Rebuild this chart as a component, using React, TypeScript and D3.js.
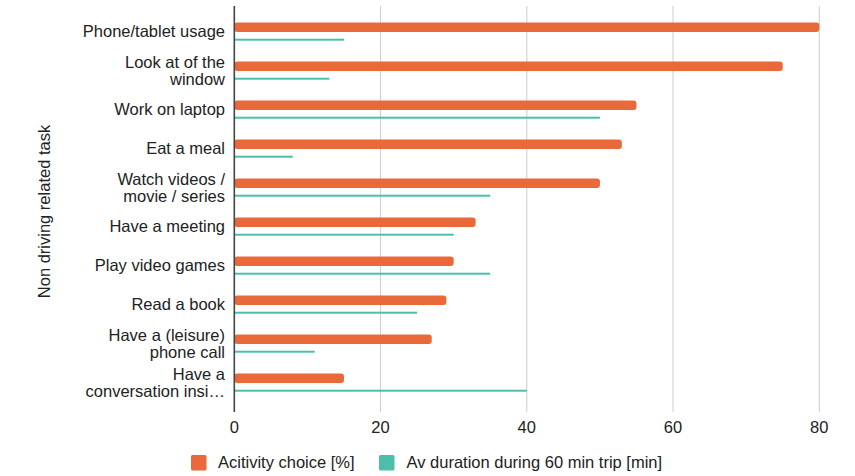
import React from "react";
import * as d3 from "d3";

const tasks: string[][] = [
  ["Phone/tablet usage"],
  ["Look at of the", "window"],
  ["Work on laptop"],
  ["Eat a meal"],
  ["Watch videos /", "movie / series"],
  ["Have a meeting"],
  ["Play video games"],
  ["Read a book"],
  ["Have a (leisure)", "phone call"],
  ["Have a", "conversation insi\u2026"],
];
const activityChoice = [80, 75, 55, 53, 50, 33, 30, 29, 27, 15];
const avDuration = [15, 13, 50, 8, 35, 30, 35, 25, 11, 40];
const xTicks = [0, 20, 40, 60, 80];
const seriesNames = ["Acitivity choice [%]", "Av duration during 60 min trip [min]"];
const colors = ["#EA693B", "#4BBFAB"];

const W = 855;
const H = 476;
const plotLeft = 234.3;
const plotRight = 819.3;
const plotTop = 6;
const plotBottom = 412;
const FONT = "'Liberation Sans', Arial, Helvetica, sans-serif";
const FS = 16.5;

export default function App() {
  const x = d3.scaleLinear().domain([0, 80]).range([plotLeft, plotRight]);
  const keys = tasks.map((t) => t.join(" "));
  const y = d3.scaleBand<string>().domain(keys).range([14, 404]);

  const barH = 9.4;
  const lineH = 2;

  return (
    <div style={{ position: "fixed", left: 0, top: 0 }}>
      <svg width={W} height={H} style={{ display: "block", background: "#fff" }} fontFamily={FONT}>
        {/* vertical gridlines */}
        {xTicks.slice(1).map((t) => (
          <line key={t} x1={x(t)} x2={x(t)} y1={plotTop} y2={plotBottom} stroke="#cccccc" strokeWidth={1} />
        ))}

        {/* bars */}
        {keys.map((k, i) => {
          const y0 = y(k)!;
          const c = y0 + y.bandwidth() / 2;
          return (
            <g key={k}>
              <rect
                x={x(0)}
                y={c - 11}
                width={x(activityChoice[i]) - x(0)}
                height={barH}
                rx={3}
                fill={colors[0]}
              />
              <rect
                x={x(0)}
                y={c + 5.2}
                width={x(avDuration[i]) - x(0)}
                height={lineH}
                fill={colors[1]}
              />
            </g>
          );
        })}

        {/* baseline axis */}
        <line x1={x(0)} x2={x(0)} y1={plotTop} y2={plotBottom} stroke="#444" strokeWidth={1.6} />

        {/* category labels */}
        {tasks.map((lines, i) => {
          const c = y(keys[i])! + y.bandwidth() / 2;
          const n = lines.length;
          return (
            <text key={i} x={225} textAnchor="end" fontSize={FS} fill="#222">
              {lines.map((ln, j) => (
                <tspan key={j} x={225} y={c - 1.8 + (j - (n - 1) / 2) * 16.5} dy="0.35em">
                  {ln}
                </tspan>
              ))}
            </text>
          );
        })}

        {/* x tick labels */}
        {xTicks.map((t) => (
          <text key={t} x={x(t)} y={433.3} textAnchor="middle" fontSize={FS} fill="#222">
            {t}
          </text>
        ))}

        {/* y axis title */}
        <text
          transform={`translate(49.5, ${(plotTop + plotBottom) / 2 + 2.5}) rotate(-90)`}
          textAnchor="middle"
          fontSize={FS}
          fill="#222"
        >
          Non driving related task
        </text>

        {/* legend */}
        <g>
          <rect x={191} y={455} width={15.5} height={15.5} rx={1.5} fill={colors[0]} />
          <text x={218} y={468.3} fontSize={FS} fill="#222">
            {seriesNames[0]}
          </text>
          <rect x={379} y={455} width={15.5} height={15.5} rx={1.5} fill={colors[1]} />
          <text x={406.5} y={468.3} fontSize={FS} fill="#222">
            {seriesNames[1]}
          </text>
        </g>
      </svg>
    </div>
  );
}
